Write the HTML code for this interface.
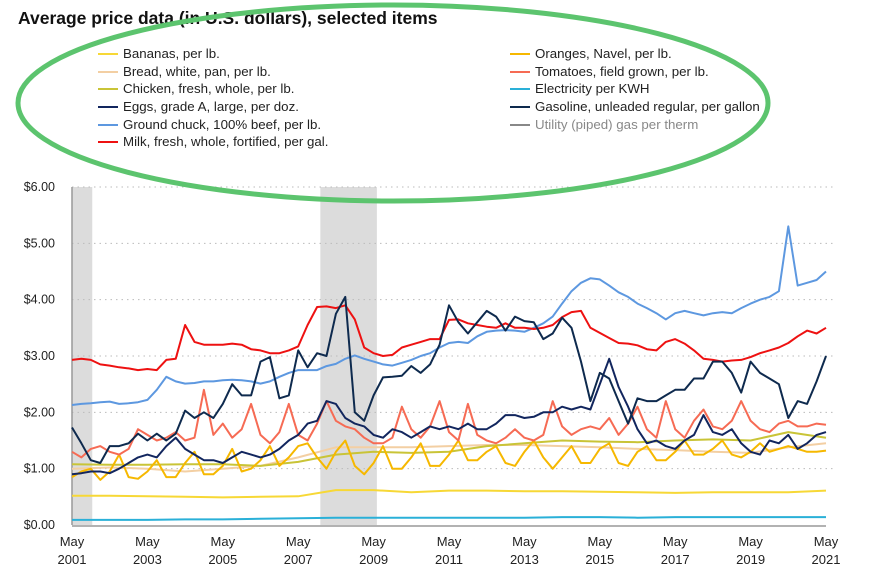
<!DOCTYPE html>
<html><head><meta charset="utf-8"><style>
body{margin:0;background:#fff;font-family:"Liberation Sans",sans-serif}
svg text{font-family:"Liberation Sans",sans-serif}
</style></head><body>
<svg id="c" width="874" height="580" xmlns="http://www.w3.org/2000/svg">
<text x="18" y="24" font-size="17.5" font-weight="bold" fill="#111">Average price data (in U.S. dollars), selected items</text>
<g id="legend"></g>
<g id="plot"></g>
<ellipse cx="393" cy="103" rx="375" ry="98" fill="none" stroke="#5cc46e" stroke-width="5"/>
</svg>
<script>
const yTicks=[0,1,2,3,4,5,6];
const xYears=[2001,2003,2005,2007,2009,2011,2013,2015,2017,2019,2021];
const recessions=[[2001.333,2001.87],[2007.92,2009.42]];
// quarterly series starting May 2001
const gasoline=[1.73,1.45,1.15,1.10,1.40,1.40,1.45,1.62,1.50,1.62,1.50,1.62,2.03,1.90,2.00,1.90,2.15,2.50,2.30,2.30,2.90,2.98,2.25,2.30,3.10,2.80,3.05,3.00,3.75,4.05,2.00,1.85,2.30,2.62,2.63,2.65,2.82,2.70,2.85,3.20,3.90,3.60,3.40,3.60,3.80,3.70,3.45,3.70,3.62,3.60,3.30,3.40,3.68,3.50,2.90,2.20,2.70,2.60,2.20,1.80,2.25,2.20,2.20,2.30,2.40,2.40,2.60,2.60,2.90,2.90,2.70,2.35,2.90,2.70,2.60,2.50,1.90,2.20,2.15,2.55,3.00];
const eggs=[0.90,0.92,0.95,0.95,0.92,1.00,1.10,1.20,1.25,1.20,1.40,1.55,1.35,1.25,1.15,1.15,1.10,1.20,1.30,1.25,1.20,1.25,1.35,1.50,1.60,1.80,1.85,2.20,2.15,1.90,1.80,1.75,1.60,1.55,1.70,1.65,1.55,1.65,1.75,1.70,1.75,1.70,1.80,1.70,1.70,1.80,1.95,1.95,1.90,1.92,2.00,2.00,2.10,2.05,2.10,2.05,2.50,2.95,2.45,2.10,1.70,1.45,1.50,1.40,1.35,1.50,1.60,1.95,1.65,1.60,1.70,1.45,1.30,1.25,1.50,1.45,1.60,1.35,1.45,1.60,1.65];
const milk=[2.93,2.95,2.93,2.85,2.83,2.80,2.78,2.75,2.77,2.75,2.93,2.95,3.55,3.25,3.20,3.20,3.20,3.22,3.20,3.12,3.10,3.05,3.05,3.10,3.17,3.55,3.87,3.88,3.85,3.90,3.65,3.15,3.05,3.00,3.02,3.15,3.20,3.25,3.30,3.30,3.64,3.65,3.58,3.55,3.52,3.50,3.58,3.50,3.50,3.48,3.50,3.55,3.69,3.78,3.80,3.50,3.41,3.32,3.23,3.22,3.19,3.12,3.10,3.25,3.30,3.22,3.10,2.95,2.93,2.90,2.92,2.93,2.98,3.05,3.10,3.15,3.23,3.35,3.45,3.40,3.50];
const chuck=[2.13,2.15,2.16,2.18,2.19,2.15,2.16,2.18,2.22,2.40,2.63,2.55,2.51,2.52,2.55,2.55,2.57,2.58,2.57,2.55,2.51,2.55,2.63,2.70,2.75,2.75,2.75,2.82,2.86,2.95,3.01,2.95,2.90,2.85,2.83,2.88,2.93,3.00,3.05,3.15,3.23,3.25,3.23,3.35,3.43,3.45,3.46,3.45,3.43,3.50,3.58,3.70,3.93,4.15,4.30,4.38,4.36,4.25,4.13,4.05,3.93,3.85,3.76,3.65,3.76,3.80,3.76,3.72,3.76,3.78,3.76,3.85,3.93,4.00,4.05,4.15,5.30,4.25,4.30,4.35,4.50];
const tomatoes=[1.30,1.20,1.35,1.40,1.30,1.25,1.35,1.70,1.60,1.50,1.55,1.65,1.50,1.55,2.40,1.60,1.80,1.55,1.70,2.15,1.60,1.45,1.65,2.15,1.60,1.50,1.80,2.20,1.85,1.75,1.70,1.55,1.45,1.45,1.55,2.10,1.70,1.55,1.75,2.20,1.65,1.50,2.15,1.60,1.50,1.45,1.55,1.70,1.55,1.50,1.60,2.20,1.75,1.60,1.70,1.75,1.70,1.90,1.60,1.80,2.10,1.70,1.55,2.20,1.70,1.55,1.85,2.05,1.75,1.70,1.85,2.20,1.85,1.70,1.65,1.80,1.85,1.75,1.75,1.80,1.78];
const oranges=[0.85,0.95,1.00,0.80,0.95,1.25,0.85,0.82,0.95,1.15,0.85,0.85,1.10,1.30,0.90,0.90,1.05,1.35,0.95,1.00,1.15,1.40,1.05,1.20,1.40,1.45,1.20,1.00,1.30,1.50,1.05,0.90,1.10,1.40,1.00,1.00,1.20,1.45,1.05,1.05,1.25,1.50,1.15,1.15,1.30,1.40,1.10,1.05,1.30,1.50,1.20,1.00,1.20,1.40,1.10,1.10,1.35,1.45,1.10,1.05,1.30,1.40,1.15,1.15,1.30,1.50,1.25,1.25,1.35,1.50,1.25,1.20,1.30,1.45,1.30,1.35,1.40,1.35,1.30,1.30,1.32];
// yearly series (May each year 2001-2021)
const chicken=[1.08,1.07,1.07,1.08,1.08,1.05,1.12,1.25,1.30,1.28,1.30,1.40,1.45,1.50,1.48,1.47,1.50,1.52,1.50,1.65,1.55];
const bread=[1.00,1.02,1.00,0.95,1.00,1.05,1.20,1.38,1.38,1.38,1.40,1.42,1.42,1.40,1.38,1.35,1.33,1.30,1.28,1.38,1.45];
const bananas=[0.52,0.52,0.51,0.50,0.49,0.50,0.51,0.62,0.62,0.58,0.61,0.61,0.60,0.60,0.59,0.58,0.57,0.58,0.58,0.58,0.61];
const electricity=[0.09,0.09,0.09,0.10,0.10,0.11,0.12,0.13,0.13,0.13,0.13,0.13,0.13,0.14,0.14,0.13,0.14,0.14,0.14,0.14,0.14];

const NS="http://www.w3.org/2000/svg";
const X0=72,X1=826,Y0=525,Y1=187;
const xs=t=>X0+(t-2001.333)/20*(X1-X0);
const ys=v=>Y0-v/6*(Y0-Y1);
const plot=document.getElementById('plot');
function mk(tag,attrs,parent){const e=document.createElementNS(NS,tag);for(const k in attrs)e.setAttribute(k,attrs[k]);(parent||plot).appendChild(e);return e;}
recessions.forEach(r=>{
 const e=mk('rect',{x:xs(r[0]),y:Y1,width:xs(r[1])-xs(r[0]),height:Y0-Y1,fill:'#dcdcdc'});
 
 
});
yTicks.forEach(v=>{
 if(v>0){const g=mk('line',{x1:X0,x2:X1+10,y1:ys(v),y2:ys(v),stroke:'#bbb','stroke-dasharray':'1.5 4'});
 
 }
 const t=mk('text',{x:55,y:ys(v)+4,'text-anchor':'end','font-size':12.5,fill:'#222'});
 t.textContent='$'+v.toFixed(2);
 
 
});
const ax=mk('line',{x1:X0,x2:X0,y1:Y1,y2:Y0,stroke:'#999','stroke-width':1.5});


const bx=mk('line',{x1:X0,x2:X1,y1:Y0+1,y2:Y0+1,stroke:'#999','stroke-width':1.5});


xYears.forEach(y=>{
 const x=xs(y+0.333);
 const t1=mk('text',{x:x,y:546,'text-anchor':'middle','font-size':13,fill:'#222'});t1.textContent='May';
 
 
 const t2=mk('text',{x:x,y:564,'text-anchor':'middle','font-size':13,fill:'#222'});t2.textContent=String(y);
 
 
});
function line(arr,step,color,name,w){
 const d=arr.map((v,i)=>(i?'L':'M')+xs(2001.333+i*step).toFixed(1)+','+ys(v).toFixed(1)).join('');
 const p=mk('path',{d:d,fill:'none',stroke:color,'stroke-width':w||2,'stroke-linejoin':'round'});
 
 
}
line(electricity,1,'#2ab0d8','series-electricity');
line(bananas,1,'#f7d836','series-bananas');
line(bread,1,'#f3cfa3','series-bread');
line(chicken,1,'#c9c437','series-chicken');
line(oranges,0.25,'#f6b800','series-oranges');
line(tomatoes,0.25,'#f66b54','series-tomatoes');
line(eggs,0.25,'#12265e','series-eggs');
line(chuck,0.25,'#5d98e0','series-ground-chuck');
line(milk,0.25,'#ee1111','series-milk');
line(gasoline,0.25,'#0e2a4e','series-gasoline');

const leg=document.getElementById('legend');
const items=[["Bananas, per lb.","#f7d836",98,58],["Bread, white, pan, per lb.","#f3cfa3",98,76],["Chicken, fresh, whole, per lb.","#c9c437",98,93],["Eggs, grade A, large, per doz.","#12265e",98,111],["Ground chuck, 100% beef, per lb.","#5d98e0",98,129],["Milk, fresh, whole, fortified, per gal.","#ee1111",98,146],["Oranges, Navel, per lb.","#f6b800",510,58],["Tomatoes, field grown, per lb.","#f66b54",510,76],["Electricity per KWH","#2ab0d8",510,93],["Gasoline, unleaded regular, per gallon","#0e2a4e",510,111],["Utility (piped) gas per therm","#888",510,129]];
items.forEach((it,i)=>{
 const g=mk('g',{},leg);
 
 
 mk('line',{x1:it[2],x2:it[2]+20,y1:it[3]-4,y2:it[3]-4,stroke:it[1],'stroke-width':2},g);
 const t=mk('text',{x:it[2]+25,y:it[3],'font-size':13.3,fill:i==10?'#888':'#222'},g);
 t.textContent=it[0];
});
</script>
</body></html>
